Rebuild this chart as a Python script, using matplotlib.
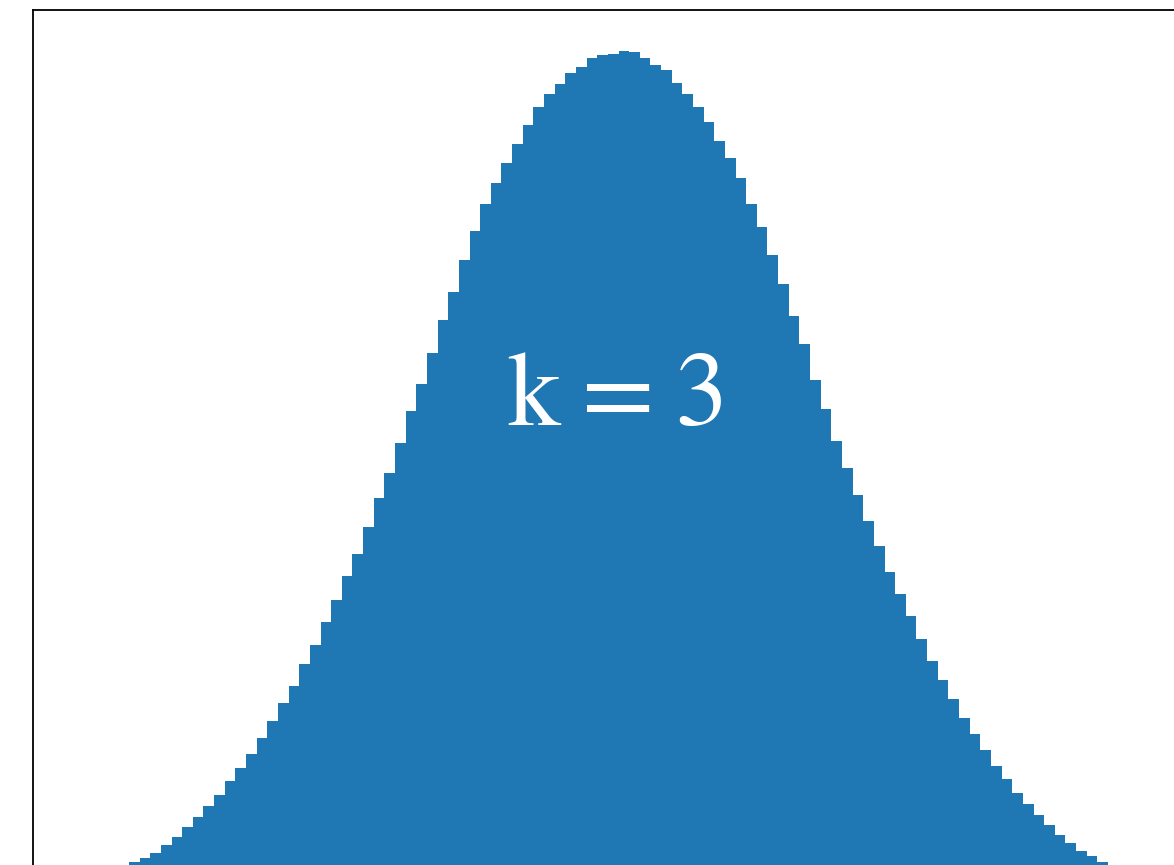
import numpy as np
import matplotlib.pyplot as plt

# histogram of the k = 3 case: 92 equal bins over [0, 3]
n_bins = 92
x_lo, x_hi = 0.0, 3.0
density = [
    0.016, 0.020, 0.025, 0.032, 0.039, 0.048, 0.057, 0.067, 0.077, 0.090,
    0.102, 0.115, 0.129, 0.145, 0.161, 0.176, 0.196, 0.214, 0.235, 0.255,
    0.276, 0.296, 0.321, 0.347, 0.370, 0.397, 0.426, 0.451, 0.479, 0.509,
    0.535, 0.564, 0.590, 0.615, 0.634, 0.652, 0.669, 0.686, 0.703, 0.715,
    0.724, 0.734, 0.739, 0.747, 0.750, 0.751, 0.754, 0.753, 0.747, 0.741,
    0.736, 0.725, 0.715, 0.703, 0.689, 0.672, 0.656, 0.638, 0.615, 0.594,
    0.568, 0.542, 0.513, 0.487, 0.455, 0.428, 0.399, 0.375, 0.350, 0.326,
    0.304, 0.280, 0.260, 0.240, 0.219, 0.199, 0.182, 0.165, 0.147, 0.133,
    0.118, 0.104, 0.092, 0.079, 0.069, 0.059, 0.050, 0.041, 0.034, 0.026,
    0.022, 0.016,
]
label = "k\u2009=\u20093"

edges = np.linspace(x_lo, x_hi, n_bins + 1)

fig = plt.figure(figsize=(11.74, 8.65), dpi=100)
# axes run past the right and bottom edges of the canvas
ax = fig.add_axes([33 / 1174, -15 / 865, 1171 / 1174, 870 / 865])

ax.stairs(density, edges, fill=True, color="#1f77b4", linewidth=0)

ax.text(1.5, 0.4135, label, color="white", ha="center", va="baseline",
        fontsize=76, family=["STIXGeneral", "DejaVu Serif"])

ax.set_xlim(-0.294, 3.294)
ax.set_ylim(0, 0.791)
ax.set_xticks([])
ax.set_yticks([])
for s in ax.spines.values():
    s.set_linewidth(1.3)

fig.savefig("out.png", dpi=100)
